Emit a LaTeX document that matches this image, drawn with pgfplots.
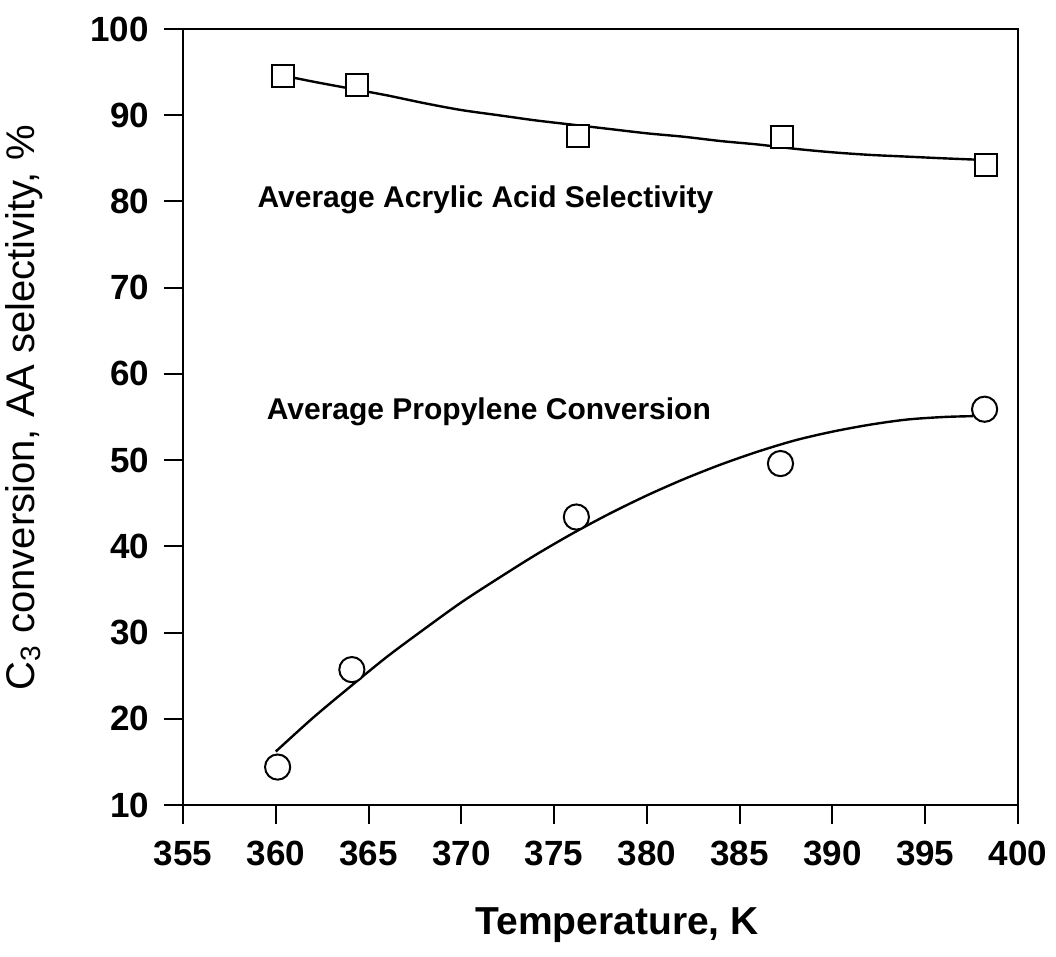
\documentclass[border=0pt]{standalone}
\usepackage{pgfplots}
\pgfplotsset{compat=1.18}
\usepackage{fontspec}
\setmainfont{Liberation Sans}

% measured data
\pgfplotstableread{
T     S
360.4 94.6
364.4 93.5
376.3 87.6
387.3 87.5
398.3 84.2
}\selectivity
\pgfplotstableread{
T     X
360.1 14.4
364.1 25.7
376.2 43.4
387.2 49.6
398.2 55.9
}\conversion
% fitted trend lines
\pgfplotstableread{
T     S
360.4 94.6
362.0 93.9
364.0 93.1
366.0 92.3
368.0 91.4
370.0 90.6
372.0 90.0
374.0 89.4
376.0 88.9
378.0 88.4
380.0 87.9
382.0 87.5
384.0 87.0
386.0 86.6
388.0 86.1
390.0 85.7
392.0 85.4
394.0 85.2
396.0 85.0
398.3 84.8
}\selectivityfit
\pgfplotstableread{
T     X
360.0 16.2
362.0 20.1
364.0 23.7
366.0 27.2
368.0 30.4
370.0 33.5
372.0 36.3
374.0 39.0
376.0 41.5
378.0 43.8
380.0 45.9
382.0 47.8
384.0 49.5
386.0 51.0
388.0 52.3
390.0 53.3
392.0 54.1
394.0 54.7
396.0 55.0
397.6 55.1
}\conversionfit

\begin{document}
\begin{tikzpicture}
\path[use as bounding box] (-91.5pt,-76pt) rectangle (436.5pt,402.5pt);
\begin{axis}[
  scale only axis,
  width=417.5pt, height=388pt,
  xmin=355, xmax=400, ymin=10, ymax=100,
  xtick={355,360,...,400},
  ytick={10,20,...,100},
  axis line style={line width=1pt},
  tick style={line width=1pt, black},
  tick align=outside,
  major tick length=9.5pt,
  xtick pos=bottom, ytick pos=left,
  /pgf/number format/assume math mode=true,
  tick label style={font=\bfseries\fontsize{17.5}{20}\selectfont},
  xticklabel style={yshift=-5pt},
  yticklabel style={xshift=-4pt},
  xlabel={Temperature, K},
  ylabel={C\textsubscript{3} conversion, AA selectivity, \%},
  xlabel style={font=\bfseries\fontsize{19.5}{22}\selectfont,
    at={(axis description cs:0.52,-0.155)}, anchor=center},
  ylabel style={font=\fontsize{20}{22}\selectfont,
    at={(axis description cs:-0.19,0.512)}, anchor=center, rotate=0},
  clip=false,
]
\addplot[black, line width=1.2pt, smooth, no marks] table[x=T,y=S] {\selectivityfit};
\addplot[black, line width=1.2pt, smooth, no marks] table[x=T,y=X] {\conversionfit};
\addplot[only marks, mark=square*, mark size=5.5pt,
  mark options={fill=white, draw=black, line width=1pt}] table[x=T,y=S] {\selectivity};
\addplot[only marks, mark=*, mark size=6.3pt,
  mark options={fill=white, draw=black, line width=1pt}] table[x=T,y=X] {\conversion};
\node[anchor=west, font=\bfseries\fontsize{15}{17}\selectfont, inner sep=0pt]
  at (axis cs:359.0,80.2) {Average Acrylic Acid Selectivity};
\node[anchor=west, font=\bfseries\fontsize{15}{17}\selectfont, inner sep=0pt]
  at (axis cs:359.5,55.6) {Average Propylene Conversion};
\end{axis}
\end{tikzpicture}
\end{document}
